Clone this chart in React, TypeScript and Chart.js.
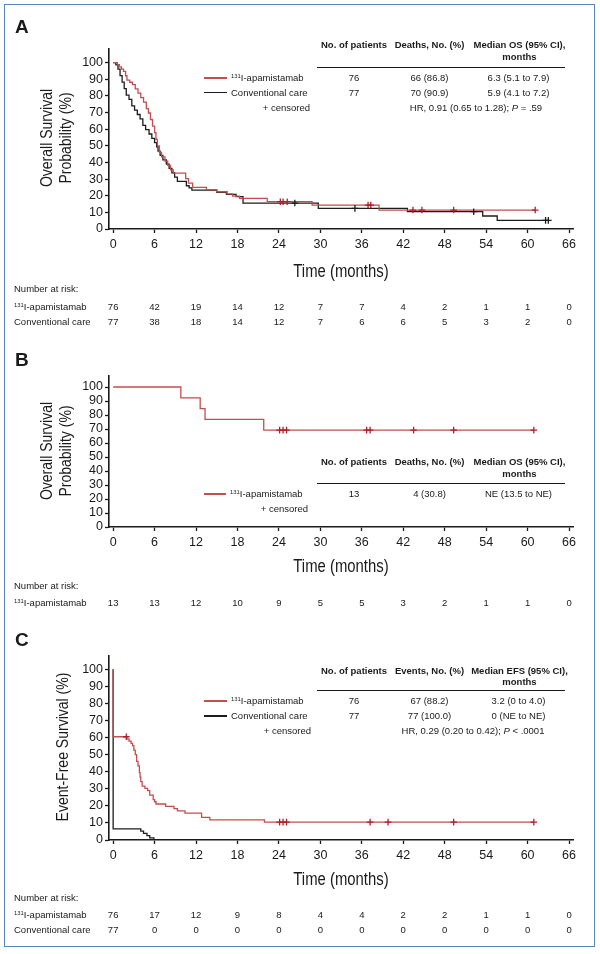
import React, { useEffect, useRef } from "react";
import { Chart, registerables } from "chart.js";

Chart.register(...registerables);

const SANS = '"Liberation Sans", Arial, Helvetica, sans-serif';
const RED = "#c44d4f";
const RED_MARK = "#b01e2c";
const BLACK = "#1c1c1c";
const INK = "#1a1a1a";
const CONDENSE = 0.85;

// ---------- axes ----------
const X_TICKS = [0, 6, 12, 18, 24, 30, 36, 42, 48, 54, 60, 66];
const Y_TICKS = [0, 10, 20, 30, 40, 50, 60, 70, 80, 90, 100];
const X_MIN = -0.6;
const X_MAX = 66.6;
const Y_MIN = 0;
const Y_MAX = 108;
const X_TITLE = "Time (months)";

// ---------- Panel A: overall survival ----------
const A_APA_TIME = [0, 0.6, 0.9, 1.2, 1.5, 1.8, 2.0, 2.4, 2.8, 3.2, 3.6, 4.0, 4.4, 4.8, 5.1, 5.4, 5.7, 6.0, 6.2, 6.4, 6.7, 7.0, 7.5, 7.9, 8.3, 8.7, 10.5, 10.9, 11.5, 13.5, 15.0, 16.5, 17.3, 18.3, 22.3, 28.8, 38.5];
const A_APA_SURV = [100, 98.7, 97.4, 96.1, 94.7, 92.1, 89.5, 88.2, 86.8, 84.2, 81.6, 78.9, 76.3, 72.4, 69.7, 65.8, 61.8, 57.9, 53.9, 50.0, 46.1, 43.4, 40.8, 38.2, 35.5, 33.6, 30.3, 27.6, 25.0, 23.7, 22.4, 21.1, 19.7, 18.4, 16.4, 14.4, 11.4];
const A_APA_END = 61.1;
const A_APA_CENSOR = [24.2, 24.6, 25.2, 36.9, 37.3, 43.4, 44.7, 49.3, 61.1];

const A_CONV_TIME = [0, 0.4, 0.7, 1.0, 1.3, 1.6, 1.9, 2.3, 2.7, 3.1, 3.5, 3.9, 4.3, 4.7, 5.2, 5.6, 6.0, 6.3, 6.5, 6.8, 7.2, 7.7, 8.1, 8.5, 8.9, 9.3, 10.6, 11.0, 11.4, 15.0, 16.4, 17.8, 18.8, 29.7, 42.6, 53.5, 55.6];
const A_CONV_SURV = [100, 98.7, 96.1, 92.2, 88.3, 84.4, 80.5, 77.9, 74.0, 71.4, 68.8, 66.2, 62.3, 59.7, 57.1, 54.5, 51.9, 49.4, 46.8, 44.2, 41.6, 39.0, 36.4, 33.8, 31.2, 28.6, 26.0, 24.7, 23.4, 22.1, 20.8, 19.5, 15.6, 12.4, 10.4, 7.8, 5.2];
const A_CONV_END = 63.0;
const A_CONV_CENSOR = [26.3, 35.0, 52.2, 62.6, 63.0];

const A_RISK_APA = [76, 42, 19, 14, 12, 7, 7, 4, 2, 1, 1, 0];
const A_RISK_CONV = [77, 38, 18, 14, 12, 7, 6, 6, 5, 3, 2, 0];

const A_Y_TITLE = ["Overall Survival", "Probability (%)"];
const A_HEAD = ["No. of patients", "Deaths, No. (%)", "Median OS (95% CI),"];
const A_ROW_APA = ["76", "66 (86.8)", "6.3 (5.1 to 7.9)"];
const A_ROW_CONV = ["77", "70 (90.9)", "5.9 (4.1 to 7.2)"];
const A_HR = ["HR, 0.91 (0.65 to 1.28); ", "P", " = .59"];

// ---------- Panel B: overall survival, single arm ----------
const B_APA_TIME = [0, 9.8, 12.6, 13.3, 21.8];
const B_APA_SURV = [100, 92.3, 84.6, 76.9, 69.2];
const B_APA_END = 60.9;
const B_APA_CENSOR = [24.1, 24.6, 25.1, 36.7, 37.2, 43.5, 49.3, 60.9];
const B_RISK_APA = [13, 13, 12, 10, 9, 5, 5, 3, 2, 1, 1, 0];
const B_Y_TITLE = ["Overall Survival", "Probability (%)"];
const B_HEAD = ["No. of patients", "Deaths, No. (%)", "Median OS (95% CI),"];
const B_ROW_APA = ["13", "4 (30.8)", "NE (13.5 to NE)"];

// ---------- Panel C: event-free survival ----------
const C_APA_TIME = [0, 0, 2.0, 2.3, 2.6, 2.8, 3.0, 3.2, 3.4, 3.6, 3.8, 3.9, 4.0, 4.2, 4.6, 5.0, 5.3, 5.8, 6.0, 6.2, 7.6, 8.8, 9.3, 10.4, 12.8, 14.0, 21.9];
const C_APA_SURV = [100, 60.5, 59.2, 57.9, 56.6, 55.3, 52.6, 50.0, 46.1, 43.4, 39.5, 36.8, 34.2, 31.6, 30.3, 28.9, 26.3, 23.7, 22.4, 21.1, 19.7, 18.4, 17.1, 15.8, 13.2, 11.8, 10.5];
const C_APA_END = 60.9;
const C_APA_CENSOR = [1.9, 24.1, 24.6, 25.1, 37.2, 39.8, 49.3, 60.9];

const C_CONV_TIME = [0, 0, 4.0, 4.4, 4.9, 5.3, 5.9];
const C_CONV_SURV = [100, 6.5, 5.2, 3.9, 2.6, 1.3, 0];
const C_CONV_END = 5.9;
const C_CONV_CENSOR: number[] = [];

const C_RISK_APA = [76, 17, 12, 9, 8, 4, 4, 2, 2, 1, 1, 0];
const C_RISK_CONV = [77, 0, 0, 0, 0, 0, 0, 0, 0, 0, 0, 0];
const C_Y_TITLE = ["Event-Free Survival (%)"];
const C_HEAD = ["No. of patients", "Events, No. (%)", "Median EFS (95% CI),"];
const C_ROW_APA = ["76", "67 (88.2)", "3.2 (0 to 4.0)"];
const C_ROW_CONV = ["77", "77 (100.0)", "0 (NE to NE)"];
const C_HR = ["HR, 0.29 (0.20 to 0.42); ", "P", " < .0001"];

// ---------- layout ----------
const PLOT_LEFT = 109;
const PLOT_RIGHT_PAD = 26.8;
const W = 600;
const xPix = (v: number) =>
  PLOT_LEFT + ((v - X_MIN) * (W - PLOT_RIGHT_PAD - PLOT_LEFT)) / (X_MAX - X_MIN);

const COLS_HEAD = [354, 429.5, 519.5];
const COLS_ROW = [354, 429.5, 518.5];

type Series = {
  t: number[];
  s: number[];
  end: number;
  censor: number[];
  color: string;
  mark: string;
};

function survAt(t: number[], s: number[], x: number) {
  let v = s[0];
  for (let i = 0; i < t.length; i++) if (t[i] <= x) v = s[i];
  return v;
}

function KMChart(props: {
  top: number;
  height: number;
  plotTop: number;
  plotBottom: number;
  series: Series[];
}) {
  const ref = useRef<HTMLCanvasElement>(null);
  useEffect(() => {
    const { top, height, plotTop, plotBottom, series } = props;
    const datasets: any[] = [];
    series.forEach((s) => {
      datasets.push({
        type: "line",
        data: s.censor.map((x) => ({ x, y: survAt(s.t, s.s, x) })),
        showLine: false,
        pointStyle: "cross",
        pointRadius: 3.3,
        pointBorderWidth: 1.3,
        pointBorderColor: s.mark,
        pointBackgroundColor: s.mark,
        borderColor: s.mark,
        clip: false,
      });
    });
    series.forEach((s) => {
      const pts = s.t.map((x, i) => ({ x, y: s.s[i] }));
      pts.push({ x: s.end, y: s.s[s.s.length - 1] });
      datasets.push({
        type: "line",
        data: pts,
        stepped: "before",
        borderColor: s.color,
        borderWidth: 1.3,
        pointRadius: 0,
        fill: false,
        clip: false,
      });
    });
    const tickFont = { family: SANS, size: 12.5 };
    const xAxisH = height - (plotBottom - top);
    const grid = {
      display: true,
      drawOnChartArea: false,
      drawTicks: true,
      tickLength: 4,
      tickWidth: 1.3,
      tickColor: INK,
    };
    const chart = new Chart(ref.current as HTMLCanvasElement, {
      type: "line",
      data: { datasets },
      options: {
        animation: false,
        responsive: false,
        events: [],
        layout: { padding: { left: 0, top: plotTop - top, right: PLOT_RIGHT_PAD, bottom: 0 } },
        plugins: { legend: { display: false }, tooltip: { enabled: false } },
        scales: {
          x: {
            type: "linear",
            min: X_MIN,
            max: X_MAX,
            afterBuildTicks: (sc: any) => {
              sc.ticks = X_TICKS.map((v) => ({ value: v }));
            },
            afterFit: (sc: any) => {
              sc.height = xAxisH;
            },
            grid,
            border: { display: true, color: INK, width: 1.6 },
            ticks: { font: tickFont, color: INK, padding: 4, maxRotation: 0, autoSkip: false },
            title: { display: false },
          },
          y: {
            type: "linear",
            min: Y_MIN,
            max: Y_MAX,
            afterBuildTicks: (sc: any) => {
              sc.ticks = Y_TICKS.map((v) => ({ value: v }));
            },
            afterFit: (sc: any) => {
              sc.width = PLOT_LEFT;
            },
            grid,
            border: { display: true, color: INK, width: 1.6 },
            ticks: { font: tickFont, color: INK, padding: 2, autoSkip: false },
            title: { display: false },
          },
        },
      } as any,
    });
    return () => chart.destroy();
  }, []);
  return (
    <canvas
      ref={ref}
      width={W}
      height={props.height}
      style={{ position: "absolute", left: 0, top: props.top, width: W, height: props.height }}
    />
  );
}

function Txt(props: {
  x: number;
  y: number;
  align?: "left" | "center" | "right";
  size?: number;
  bold?: boolean;
  children: React.ReactNode;
}) {
  const { x, y, align = "left", size = 9.5, bold = false, children } = props;
  const tx = align === "center" ? "-50%" : align === "right" ? "-100%" : "0";
  return (
    <div
      style={{
        position: "absolute",
        left: x,
        top: y,
        transform: `translate(${tx}, -50%)`,
        fontFamily: SANS,
        fontSize: size,
        fontWeight: bold ? 700 : 400,
        lineHeight: 1,
        whiteSpace: "nowrap",
        color: INK,
      }}
    >
      {children}
    </div>
  );
}

// condensed axis title (real text, horizontally compressed like a narrow face)
function AxisTitle({ x, y, text, size, vertical }: { x: number; y: number; text: string; size: number; vertical?: boolean }) {
  return (
    <div
      style={{
        position: "absolute",
        left: x,
        top: y,
        transform: `translate(-50%, -50%)${vertical ? " rotate(-90deg)" : ""} scaleX(${CONDENSE})`,
        fontFamily: SANS,
        fontSize: size,
        lineHeight: 1,
        whiteSpace: "nowrap",
        color: INK,
      }}
    >
      {text}
    </div>
  );
}

function YTitle({ lines, x0, y }: { lines: string[]; x0: number; y: number }) {
  return (
    <>
      {lines.map((l, i) => (
        <AxisTitle key={i} x={x0 + i * 19} y={y} text={l} size={16.5} vertical />
      ))}
    </>
  );
}

const Apa = () => (
  <>
    <span style={{ fontSize: "0.62em", position: "relative", top: "-0.5em" }}>131</span>I-apamistamab
  </>
);

function LegendLine({ x1, x2, y, color }: { x1: number; x2: number; y: number; color: string }) {
  return (
    <div
      style={{ position: "absolute", left: x1, top: y - 0.7, width: x2 - x1, height: 1.4, background: color }}
    />
  );
}

function Rule({ x1, x2, y }: { x1: number; x2: number; y: number }) {
  return <div style={{ position: "absolute", left: x1, top: y - 0.8, width: x2 - x1, height: 1.6, background: INK }} />;
}

function StatHead({ head, y, monthsY }: { head: string[]; y: number; monthsY: number }) {
  return (
    <>
      {head.map((h, i) => (
        <Txt key={i} x={COLS_HEAD[i]} y={y} align="center" bold>
          {h}
        </Txt>
      ))}
      <Txt x={COLS_HEAD[2]} y={monthsY} align="center" bold>
        months
      </Txt>
    </>
  );
}

function StatRow({ row, y }: { row: string[]; y: number }) {
  return (
    <>
      {row.map((c, i) => (
        <Txt key={i} x={COLS_ROW[i]} y={y} align="center">
          {c}
        </Txt>
      ))}
    </>
  );
}

function RiskRow({ label, values, y }: { label: React.ReactNode; values: number[]; y: number }) {
  return (
    <>
      <Txt x={14} y={y}>
        {label}
      </Txt>
      {values.map((v, i) => (
        <Txt key={i} x={xPix(X_TICKS[i])} y={y} align="center">
          {v}
        </Txt>
      ))}
    </>
  );
}

export default function App() {
  const aSeries: Series[] = [
    { t: A_APA_TIME, s: A_APA_SURV, end: A_APA_END, censor: A_APA_CENSOR, color: RED, mark: RED_MARK },
    { t: A_CONV_TIME, s: A_CONV_SURV, end: A_CONV_END, censor: A_CONV_CENSOR, color: BLACK, mark: BLACK },
  ];
  const bSeries: Series[] = [
    { t: B_APA_TIME, s: B_APA_SURV, end: B_APA_END, censor: B_APA_CENSOR, color: RED, mark: RED_MARK },
  ];
  const cSeries: Series[] = [
    { t: C_APA_TIME, s: C_APA_SURV, end: C_APA_END, censor: C_APA_CENSOR, color: RED, mark: RED_MARK },
    { t: C_CONV_TIME, s: C_CONV_SURV, end: C_CONV_END, censor: C_CONV_CENSOR, color: BLACK, mark: BLACK },
  ];
  const xMid = (xPix(X_MIN) + xPix(X_MAX)) / 2;
  return (
    <div
      style={{
        position: "absolute",
        left: 0,
        top: 0,
        width: 600,
        height: 954,
        background: "#fff",
        overflow: "hidden",
      }}
    >
      <KMChart top={0} height={285} plotTop={229 - 108 * 1.664} plotBottom={229} series={aSeries} />
      <KMChart top={330} height={250} plotTop={527 - 108 * 1.4} plotBottom={527} series={bSeries} />
      <KMChart top={620} height={275} plotTop={840 - 108 * 1.707} plotBottom={840} series={cSeries} />

      {/* frame */}
      <div
        style={{
          position: "absolute",
          left: 4,
          top: 4,
          width: 591,
          height: 943,
          boxSizing: "border-box",
          border: "1.6px solid #5b85be",
        }}
      />

      {/* Panel A */}
      <Txt x={15} y={26} size={19} bold>
        A
      </Txt>
      <YTitle lines={A_Y_TITLE} x0={46} y={138} />
      <AxisTitle x={xMid} y={272} text={X_TITLE} size={17.5} />
      <StatHead head={A_HEAD} y={45} monthsY={57} />
      <Rule x1={317} x2={565} y={67.5} />
      <LegendLine x1={204} x2={227} y={78} color={RED} />
      <Txt x={231} y={77.5}>
        <Apa />
      </Txt>
      <StatRow row={A_ROW_APA} y={77.5} />
      <LegendLine x1={204} x2={227} y={92.5} color={BLACK} />
      <Txt x={231} y={92.5}>Conventional care</Txt>
      <StatRow row={A_ROW_CONV} y={92.5} />
      <Txt x={310} y={107.5} align="right">
        + censored
      </Txt>
      <Txt x={476} y={107.5} align="center">
        {A_HR[0]}
        <i>{A_HR[1]}</i>
        {A_HR[2]}
      </Txt>
      <Txt x={14} y={289}>Number at risk:</Txt>
      <RiskRow label={<Apa />} values={A_RISK_APA} y={306.5} />
      <RiskRow label="Conventional care" values={A_RISK_CONV} y={322} />

      {/* Panel B */}
      <Txt x={15} y={359} size={19} bold>
        B
      </Txt>
      <YTitle lines={B_Y_TITLE} x0={46} y={451} />
      <AxisTitle x={xMid} y={567} text={X_TITLE} size={17.5} />
      <StatHead head={B_HEAD} y={462} monthsY={474} />
      <Rule x1={317} x2={565} y={483.5} />
      <LegendLine x1={204} x2={226} y={494} color={RED} />
      <Txt x={230} y={493.5}>
        <Apa />
      </Txt>
      <StatRow row={B_ROW_APA} y={493.5} />
      <Txt x={308} y={508.5} align="right">
        + censored
      </Txt>
      <Txt x={14} y={586}>Number at risk:</Txt>
      <RiskRow label={<Apa />} values={B_RISK_APA} y={602.5} />

      {/* Panel C */}
      <Txt x={15} y={639} size={19} bold>
        C
      </Txt>
      <YTitle lines={C_Y_TITLE} x0={62} y={747} />
      <AxisTitle x={xMid} y={880} text={X_TITLE} size={17.5} />
      <StatHead head={C_HEAD} y={670.5} monthsY={681.5} />
      <Rule x1={317} x2={565} y={690.5} />
      <LegendLine x1={204} x2={227} y={701} color={RED} />
      <Txt x={231} y={700.5}>
        <Apa />
      </Txt>
      <StatRow row={C_ROW_APA} y={700.5} />
      <LegendLine x1={204} x2={227} y={716} color={BLACK} />
      <Txt x={231} y={715.5}>Conventional care</Txt>
      <StatRow row={C_ROW_CONV} y={715.5} />
      <Txt x={311} y={730.5} align="right">
        + censored
      </Txt>
      <Txt x={473} y={730.5} align="center">
        {C_HR[0]}
        <i>{C_HR[1]}</i>
        {C_HR[2]}
      </Txt>
      <Txt x={14} y={898}>Number at risk:</Txt>
      <RiskRow label={<Apa />} values={C_RISK_APA} y={914.5} />
      <RiskRow label="Conventional care" values={C_RISK_CONV} y={929.5} />
    </div>
  );
}
